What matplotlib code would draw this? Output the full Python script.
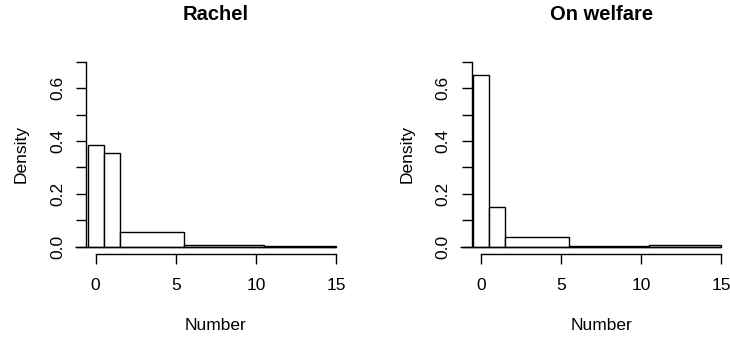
import numpy as np
import matplotlib
matplotlib.use("Agg")
import matplotlib.pyplot as plt

plt.rcParams['font.family'] = ['Liberation Sans', 'DejaVu Sans']

# bin edges shared by both histograms (unequal widths)
edges = [-0.5, 0.5, 1.5, 5.5, 10.5, 15]
titles = ['Rachel', 'On welfare']
rachel_density = [0.384, 0.356, 0.057, 0.005, 0.002]
welfare_density = [0.652, 0.152, 0.038, 0.004, 0.008]
x_ticks = [0, 5, 10, 15]
y_ticks = [0.0, 0.1, 0.2, 0.3, 0.4, 0.5, 0.6, 0.7]
y_labels = ['0.0', '', '0.2', '', '0.4', '', '0.6', '']

W, H = 730, 337
fig = plt.figure(figsize=(W / 100, H / 100), dpi=100)

# axes boxes in pixels: left, top, right, bottom
boxes = [(86, 54.5, 345.6, 254), (471.7, 54.5, 731, 254)]

for (l, t, r, b), title, dens in zip(boxes, titles, [rachel_density, welfare_density]):
    ax = fig.add_axes([l / W, 1 - b / H, (r - l) / W, (b - t) / H])
    ax.set_xlim(-0.6, 15.6)
    ax.set_ylim(-0.028, 0.728)

    left = np.array(edges[:-1])
    widths = np.diff(edges)
    ax.bar(left, dens, width=widths, align='edge', facecolor='white',
           edgecolor='black', linewidth=1.0, clip_on=False)
    ax.hlines(0, -1.3, 15, color='black', linewidth=1.0, clip_on=False)

    for s in ['top', 'right']:
        ax.spines[s].set_visible(False)
    ax.spines['left'].set_bounds(0, 0.7)
    ax.spines['bottom'].set_bounds(0, 15)
    for s in ['left', 'bottom']:
        ax.spines[s].set_linewidth(1.0)

    ax.set_xticks(x_ticks)
    ax.set_yticks(y_ticks)
    ax.set_yticklabels(y_labels, rotation=90, va='center')
    ax.tick_params(axis='both', direction='out', length=7, width=1.0,
                   labelsize=12.5, pad=8)
    ax.tick_params(axis='x', pad=10)

    ax.text(0.5, (b - 14) / (b - t), title, transform=ax.transAxes,
            fontsize=14.5, fontweight='bold', ha='center', va='center')
    ax.set_xlabel('Number', fontsize=12.5)
    ax.xaxis.set_label_coords(0.5, -0.356)
    ax.xaxis.label.set_va('center')
    ax.set_ylabel('Density', fontsize=12.5)
    ax.yaxis.set_label_coords(-0.25, 0.5)
    ax.yaxis.label.set_va('center')

fig.savefig('out.png', dpi=100)
